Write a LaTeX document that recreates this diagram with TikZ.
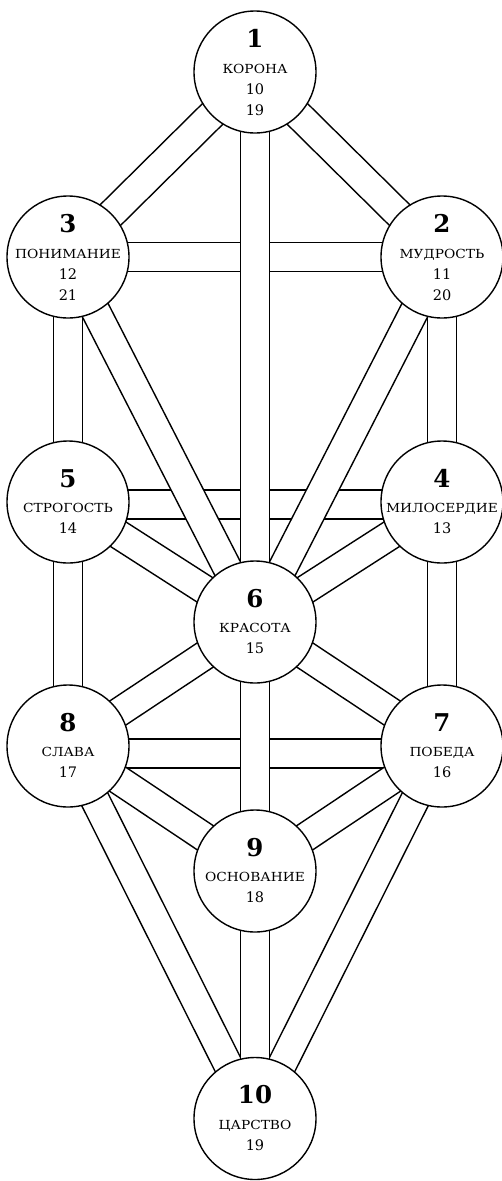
\documentclass[tikz,border=0pt]{standalone}
\usepackage{fontspec}
\setmainfont{DejaVu Serif}
\newfontfamily\namefont[FakeStretch=1.1]{DejaVu Serif}
\usetikzlibrary{calc}
\newcommand{\bw}{14.5pt}
\tikzset{
  edgeline/.style={line width=1.4pt},
  sefira/.style={circle, draw, line width=1.4pt, fill=white, minimum size=122pt, inner sep=0pt},
  bignum/.style={anchor=base, inner sep=0pt, font=\fontsize{24.5}{24.5}\selectfont\bfseries},
  sname/.style={anchor=base, inner sep=0pt, font=\namefont\fontsize{12.5}{12.5}\selectfont},
  snum/.style={anchor=base, inner sep=0pt, font=\fontsize{14.5}{14.5}\selectfont},
}
\newcommand{\band}[2]{%
  \fill[white] ($(#1)!\bw!90:(#2)$) -- ($(#2)!\bw!-90:(#1)$) -- ($(#2)!\bw!90:(#1)$) -- ($(#1)!\bw!-90:(#2)$) -- cycle;
  \draw[edgeline] ($(#1)!\bw!90:(#2)$) -- ($(#2)!\bw!-90:(#1)$);
  \draw[edgeline] ($(#1)!\bw!-90:(#2)$) -- ($(#2)!\bw!90:(#1)$);
}
% four-line sefira: id, number, name, first, second
\newcommand{\sefFour}[5]{%
  \node[sefira] (n#1) at (c#1) {};
  \node[bignum] (n#1num) at ([yshift=25pt]c#1) {#2};
  \node[sname] (n#1name) at ([yshift=-1pt]c#1) {#3};
  \node[snum] (n#1a) at ([yshift=-22pt]c#1) {#4};
  \node[snum] (n#1b) at ([yshift=-43pt]c#1) {#5};
}
% three-line sefira: id, number, name, first
\newcommand{\sefThree}[4]{%
  \node[sefira] (n#1) at (c#1) {};
  \node[bignum] (n#1num) at ([yshift=15pt]c#1) {#2};
  \node[sname] (n#1name) at ([yshift=-10.5pt]c#1) {#3};
  \node[snum] (n#1a) at ([yshift=-31.5pt]c#1) {#4};
}
\begin{document}
\begin{tikzpicture}[x=1pt, y=-1pt]
\useasboundingbox (0,0) rectangle (502,1181);
\coordinate (c1) at (255,72);
\coordinate (c2) at (442,257);
\coordinate (c3) at (68,257);
\coordinate (c4) at (442,502);
\coordinate (c5) at (68,502);
\coordinate (c6) at (255,622);
\coordinate (c7) at (442,746);
\coordinate (c8) at (68,746);
\coordinate (c9) at (255,871);
\coordinate (c10) at (255,1118.5);
% ends of the horizontal channels
\coordinate (h5) at (68,504.5);
\coordinate (h4) at (442,504.5);
\coordinate (h8) at (68,753.5);
\coordinate (h7) at (442,753.5);
% horizontal channels first
\band{c3}{c2}
\band{h5}{h4}
\band{h8}{h7}
% the other channels
\band{c1}{c3}
\band{c1}{c2}
\band{c3}{c5}
\band{c2}{c4}
\band{c5}{c8}
\band{c4}{c7}
\band{c5}{c6}
\band{c4}{c6}
\band{c8}{c6}
\band{c7}{c6}
\band{c3}{c6}
\band{c2}{c6}
\band{c1}{c6}
\band{c6}{c9}
\band{c8}{c9}
\band{c7}{c9}
\band{c8}{c10}
\band{c7}{c10}
\band{c9}{c10}
% sefirot
\sefFour{1}{1}{КОРОНА}{10}{19}
\sefFour{3}{3}{ПОНИМАНИЕ}{12}{21}
\sefFour{2}{2}{МУДРОСТЬ}{11}{20}
\sefThree{5}{5}{СТРОГОСТЬ}{14}
\sefThree{4}{4}{МИЛОСЕРДИЕ}{13}
\sefThree{6}{6}{КРАСОТА}{15}
\sefThree{8}{8}{СЛАВА}{17}
\sefThree{7}{7}{ПОБЕДА}{16}
\sefThree{9}{9}{ОСНОВАНИЕ}{18}
\sefThree{10}{10}{ЦАРСТВО}{19}
\end{tikzpicture}
\end{document}
